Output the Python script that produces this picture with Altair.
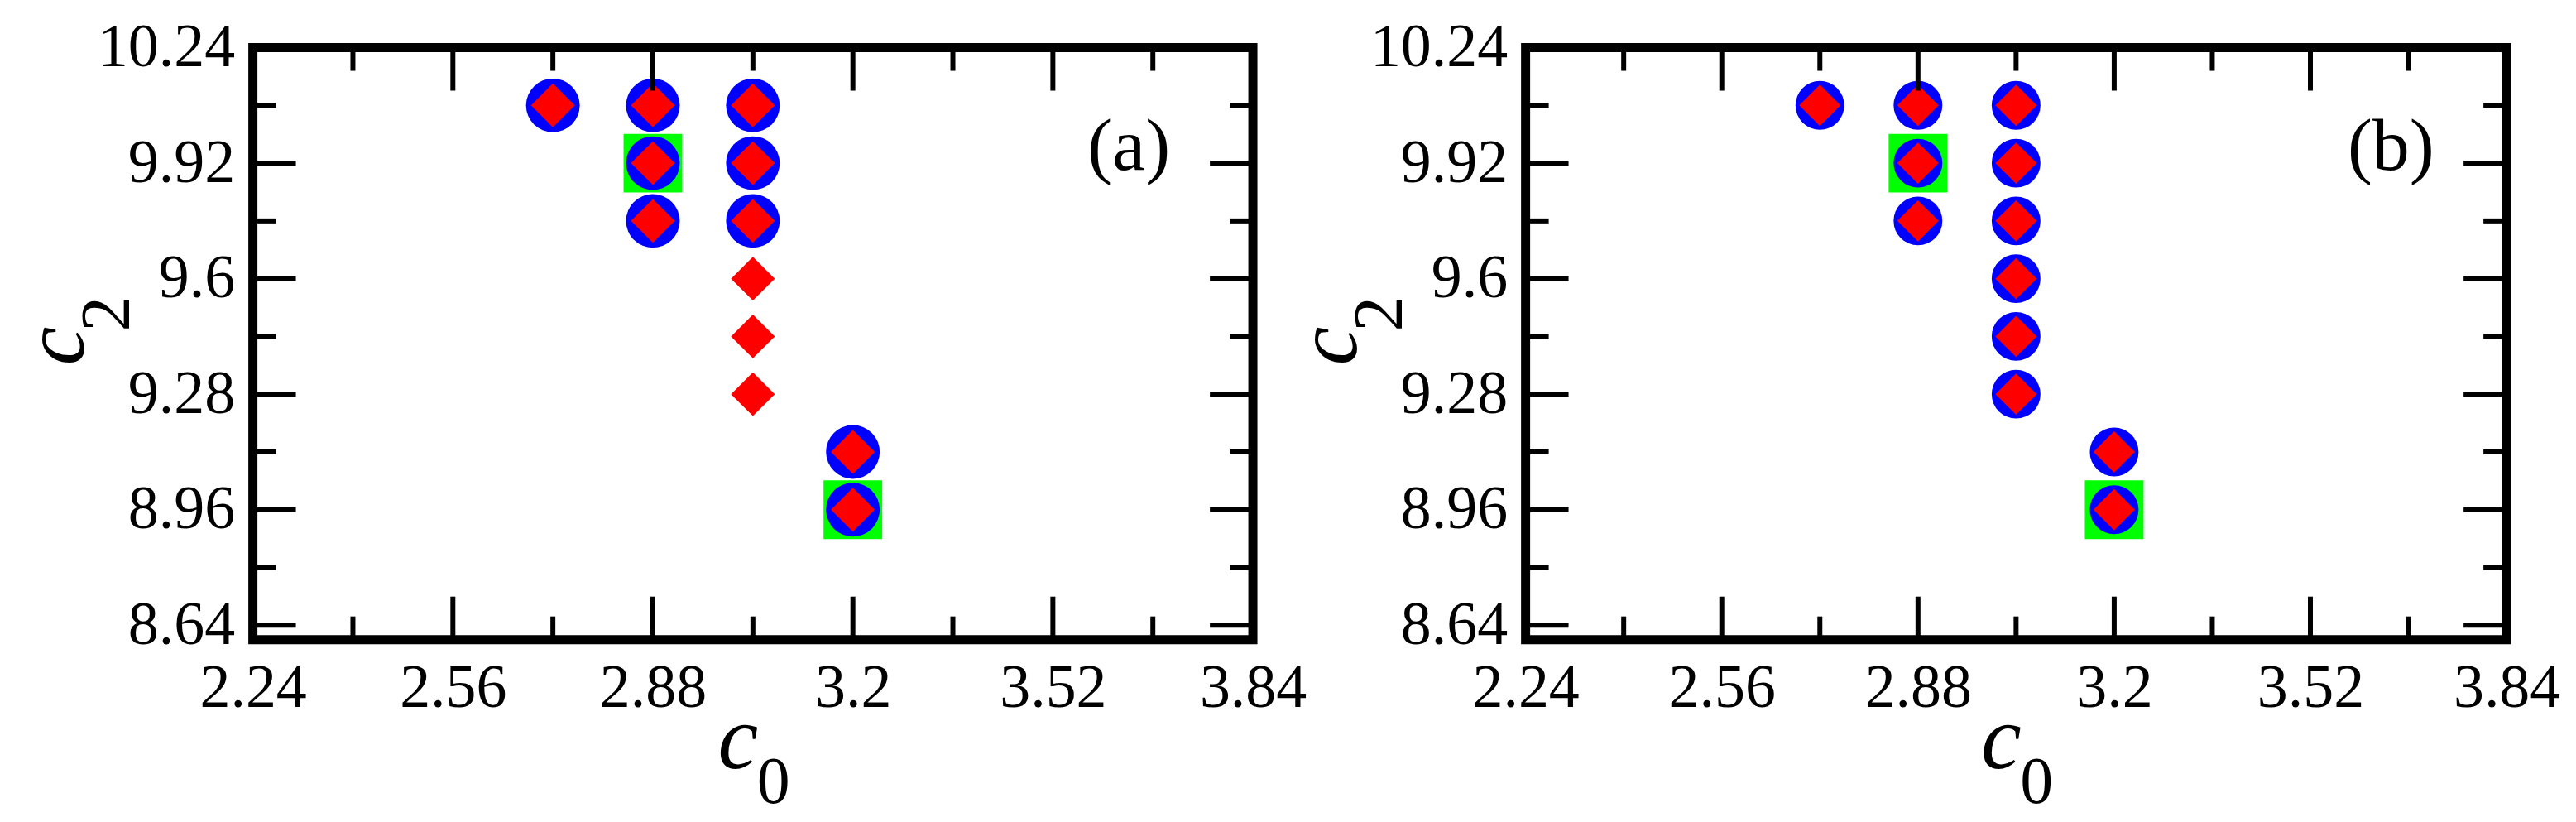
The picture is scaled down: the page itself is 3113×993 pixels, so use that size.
import altair as alt
import pandas as pd

# ---------------- data ----------------
x_major = [2.24, 2.56, 2.88, 3.2, 3.52, 3.84]
x_minor = [2.40, 2.72, 3.04, 3.36, 3.68]
y_major = [8.64, 8.96, 9.28, 9.6, 9.92, 10.24]
y_minor = [8.80, 9.12, 9.44, 9.76, 10.08]

# panel (a)
a_circle_c0 = [2.72, 2.88, 2.88, 2.88, 3.04, 3.04, 3.04, 3.2, 3.2]
a_circle_c2 = [10.08, 10.08, 9.92, 9.76, 10.08, 9.92, 9.76, 9.12, 8.96]
a_diamond_c0 = [2.72, 2.88, 2.88, 2.88, 3.04, 3.04, 3.04, 3.04, 3.04, 3.04, 3.2, 3.2]
a_diamond_c2 = [10.08, 10.08, 9.92, 9.76, 10.08, 9.92, 9.76, 9.6, 9.44, 9.28, 9.12, 8.96]
a_square_c0 = [2.88, 3.2]
a_square_c2 = [9.92, 8.96]

# panel (b)
b_circle_c0 = [2.72, 2.88, 2.88, 2.88, 3.04, 3.04, 3.04, 3.04, 3.04, 3.04, 3.2, 3.2]
b_circle_c2 = [10.08, 10.08, 9.92, 9.76, 10.08, 9.92, 9.76, 9.6, 9.44, 9.28, 9.12, 8.96]
b_diamond_c0 = [2.72, 2.88, 2.88, 2.88, 3.04, 3.04, 3.04, 3.04, 3.04, 3.04, 3.2, 3.2]
b_diamond_c2 = [10.08, 10.08, 9.92, 9.76, 10.08, 9.92, 9.76, 9.6, 9.44, 9.28, 9.12, 8.96]
b_square_c0 = [2.88, 3.2]
b_square_c2 = [9.92, 8.96]

FONT = "Liberation Serif, Times New Roman, Times, serif"
H = 716


def panel(tag, cx, cy, dx, dy, sx, sy, W, circ_size, dia_size, sq_size, tag_x):
    xs = alt.Scale(domain=[2.24, 3.84], nice=False, zero=False)
    ys = alt.Scale(domain=[8.6, 10.24], nice=False, zero=False)
    xax = alt.Axis(values=x_major, labelExpr="'' + datum.value", ticks=False, tickSize=0,
                   domain=False, grid=False, labelPadding=23, title=None, labelFlush=False,
                   labelOverlap=False, labelFont=FONT, labelFontSize=74, labelColor="black")
    yax = alt.Axis(values=y_major, labelExpr="'' + datum.value", ticks=False, tickSize=0,
                   domain=False, grid=False, labelPadding=22, title=None, labelFlush=False,
                   labelOverlap=False, labelFont=FONT, labelFontSize=74, labelColor="black")
    X = alt.X("c0:Q", scale=xs, axis=xax)
    Y = alt.Y("c2:Q", scale=ys, axis=yax)

    sq = alt.Chart(pd.DataFrame({"c0": sx, "c2": sy})).mark_point(
        shape="square", filled=True, color="#00ff00", opacity=1, size=sq_size, strokeWidth=0
    ).encode(x=X, y=Y)
    ci = alt.Chart(pd.DataFrame({"c0": cx, "c2": cy})).mark_point(
        shape="circle", filled=True, color="#0000ff", opacity=1, size=circ_size, strokeWidth=0
    ).encode(x=X, y=Y)
    di = alt.Chart(pd.DataFrame({"c0": dx, "c2": dy})).mark_point(
        shape="diamond", filled=True, color="#ff0000", opacity=1, size=dia_size, strokeWidth=0
    ).encode(x=X, y=Y)

    xmaj = pd.DataFrame({"c0": x_major})
    xmin = pd.DataFrame({"c0": x_minor})
    ymaj = pd.DataFrame({"c2": y_major})
    ymin = pd.DataFrame({"c2": y_minor})
    rule = dict(color="black", strokeWidth=6)
    ticks = []
    for df, L in ((xmaj, 52), (xmin, 28)):
        ticks.append(alt.Chart(df).mark_rule(**rule).encode(
            x=X, y=alt.value(H), y2=alt.value(H - L)))
        ticks.append(alt.Chart(df).mark_rule(**rule).encode(
            x=X, y=alt.value(0), y2=alt.value(L)))
    for df, L in ((ymaj, 52), (ymin, 28)):
        ticks.append(alt.Chart(df).mark_rule(**rule).encode(
            y=Y, x=alt.value(0), x2=alt.value(L)))
        ticks.append(alt.Chart(df).mark_rule(**rule).encode(
            y=Y, x=alt.value(W), x2=alt.value(W - L)))

    one = pd.DataFrame({"t": [tag]})
    tag_t = alt.Chart(one).mark_text(
        font=FONT, fontSize=90, align="center", baseline="alphabetic", color="black"
    ).encode(x=alt.value(tag_x), y=alt.value(148), text="t:N")

    c_df = pd.DataFrame({"t": ["c"]})
    c0_c = alt.Chart(c_df).mark_text(
        font=FONT, fontSize=110, fontStyle="italic", align="center",
        baseline="alphabetic", color="black"
    ).encode(x=alt.value(W / 2 - 18), y=alt.value(872), text="t:N")
    c0_s = alt.Chart(pd.DataFrame({"t": ["0"]})).mark_text(
        font=FONT, fontSize=80, align="center", baseline="alphabetic", color="black"
    ).encode(x=alt.value(W / 2 + 25), y=alt.value(914), text="t:N")
    c2_c = alt.Chart(c_df).mark_text(
        font=FONT, fontSize=105, fontStyle="italic", align="center",
        baseline="alphabetic", angle=270, color="black"
    ).encode(x=alt.value(-205), y=alt.value(H / 2 + 3), text="t:N")
    c2_s = alt.Chart(pd.DataFrame({"t": ["2"]})).mark_text(
        font=FONT, fontSize=85, align="center", baseline="alphabetic", angle=270,
        color="black"
    ).encode(x=alt.value(-150), y=alt.value(H / 2 - 36), text="t:N")

    return alt.layer(sq, ci, di, *ticks, tag_t, c0_c, c0_s, c2_c, c2_s).properties(
        width=W, height=H)


pa = panel("(a)", a_circle_c0, a_circle_c2, a_diamond_c0, a_diamond_c2,
           a_square_c0, a_square_c2, 1210, 4225, 2809, 5041, 1060)
pb = panel("(b)", b_circle_c0, b_circle_c2, b_diamond_c0, b_diamond_c2,
           b_square_c0, b_square_c2, 1187, 3481, 2500, 5041, 1047)

chart = alt.hconcat(pa, pb, spacing=330, bounds="flush").configure_view(
    stroke="black", strokeWidth=11, fill="white"
).properties(
    padding={"left": 3, "top": 6, "right": 5, "bottom": 0},
    background="white",
)

chart.save("out.html", embed_options={"renderer": "svg", "actions": False})
